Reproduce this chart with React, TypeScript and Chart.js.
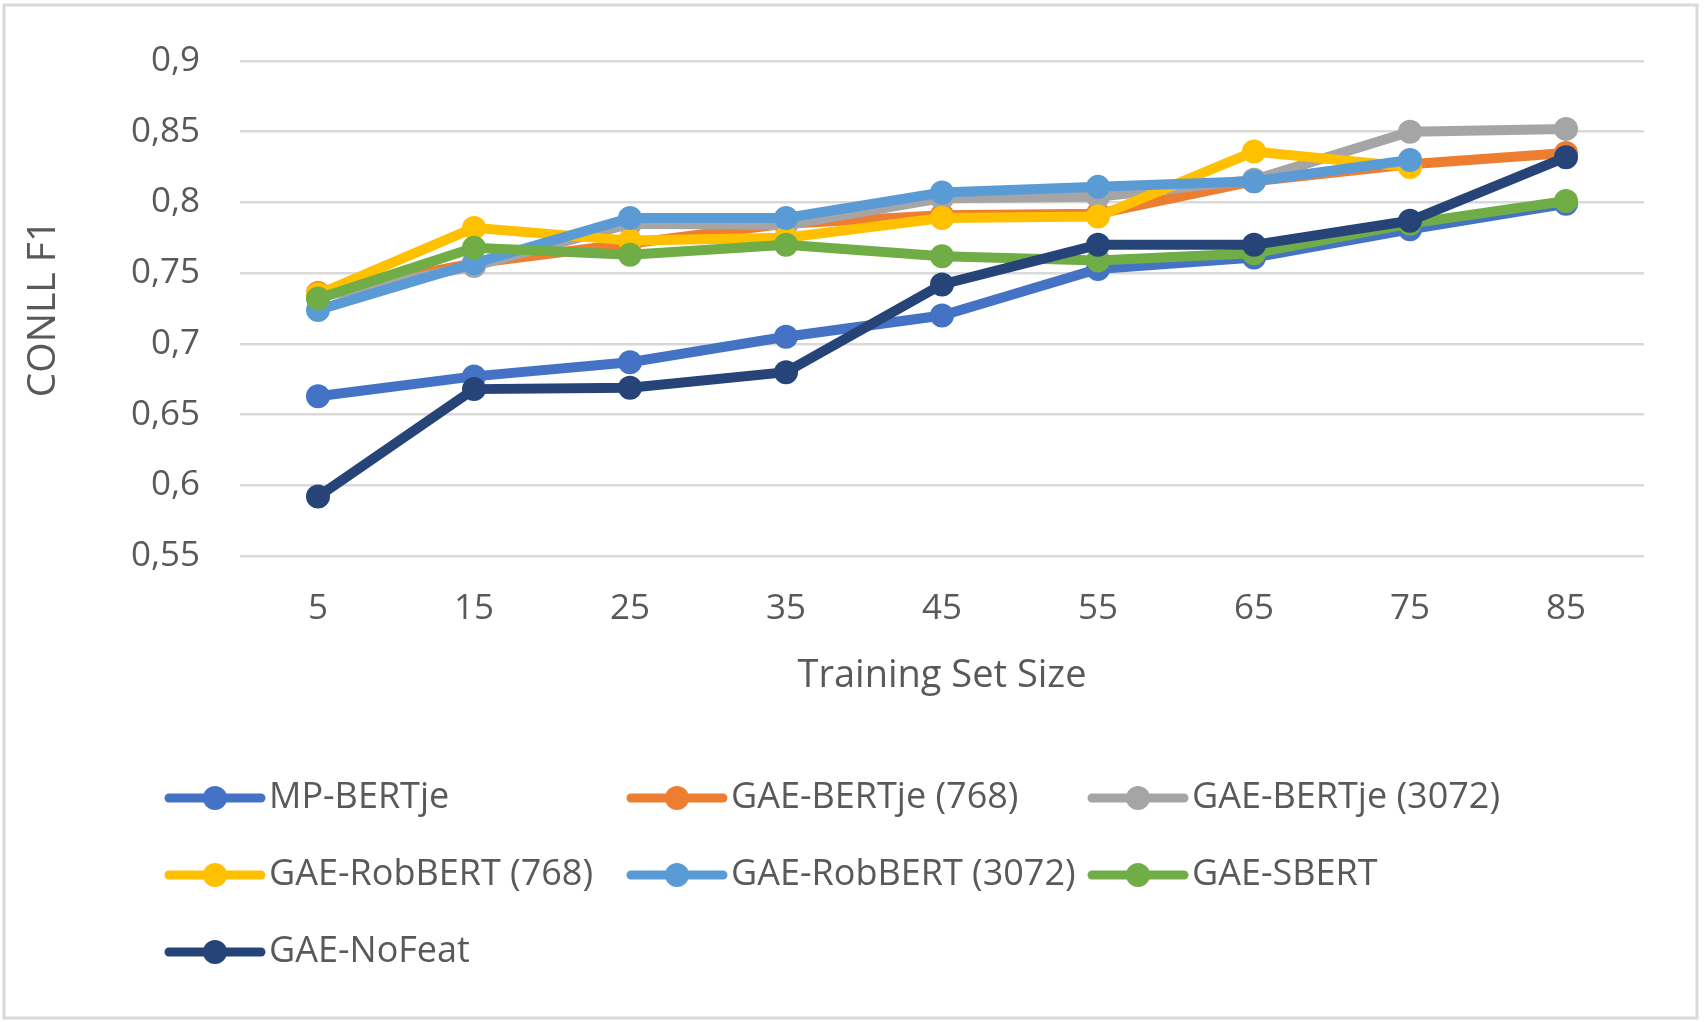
import React, { useEffect, useRef } from "react";
import { Chart, registerables } from "chart.js";

Chart.register(...registerables);

const categories = ["5", "15", "25", "35", "45", "55", "65", "75", "85"];
const seriesNames = [
  "MP-BERTje",
  "GAE-BERTje (768)",
  "GAE-BERTje (3072)",
  "GAE-RobBERT (768)",
  "GAE-RobBERT (3072)",
  "GAE-SBERT",
  "GAE-NoFeat",
];
const mpBertje = [0.663, 0.677, 0.687, 0.705, 0.72, 0.753, 0.761, 0.781, 0.799];
const gaeBertje768 = [0.736, 0.757, 0.771, 0.785, 0.791, 0.792, 0.815, 0.827, 0.835];
const gaeBertje3072 = [0.733, 0.755, 0.785, 0.784, 0.803, 0.804, 0.816, 0.85, 0.852];
const gaeRobbert768 = [0.735, 0.782, 0.773, 0.775, 0.789, 0.79, 0.836, 0.825, null];
const gaeRobbert3072 = [0.724, 0.757, 0.789, 0.789, 0.807, 0.811, 0.815, 0.83, null];
const gaeSbert = [0.732, 0.768, 0.763, 0.77, 0.762, 0.759, 0.764, 0.785, 0.801];
const gaeNoFeat = [0.592, 0.668, 0.669, 0.68, 0.742, 0.77, 0.77, 0.787, 0.832];
const seriesValues = [mpBertje, gaeBertje768, gaeBertje3072, gaeRobbert768, gaeRobbert3072, gaeSbert, gaeNoFeat];
const seriesColors = ["#4472C4", "#ED7D31", "#A5A5A5", "#FFC000", "#5B9BD5", "#70AD47", "#264478"];
const yTickValues = [0.55, 0.6, 0.65, 0.7, 0.75, 0.8, 0.85, 0.9];

const FONT = "'Open Sans', 'Noto Sans', sans-serif";
const TEXT = "#595959";

const frameAndLegend = {
  id: "frameAndLegend",
  beforeDraw(chart: any) {
    const ctx = chart.ctx;
    ctx.save();
    ctx.fillStyle = "#ffffff";
    ctx.fillRect(0, 0, chart.width, chart.height);
    ctx.strokeStyle = "#D9D9D9";
    ctx.lineWidth = 3;
    ctx.strokeRect(4, 5, 1693, 1013);
    ctx.restore();
  },
  afterDraw(chart: any) {
    const ctx = chart.ctx;
    ctx.save();
    const colX = [169, 631, 1092];
    const rowY = [798, 875, 952];
    chart.data.datasets.forEach((ds: any, i: number) => {
      const x0 = colX[i % 3];
      const y = rowY[Math.floor(i / 3)];
      ctx.strokeStyle = ds.borderColor;
      ctx.lineWidth = 9;
      ctx.lineCap = "round";
      ctx.beginPath();
      ctx.moveTo(x0, y);
      ctx.lineTo(x0 + 92, y);
      ctx.stroke();
      ctx.fillStyle = ds.borderColor;
      ctx.beginPath();
      ctx.arc(x0 + 46, y, 12, 0, Math.PI * 2);
      ctx.fill();
      ctx.fillStyle = TEXT;
      ctx.font = `36px ${FONT}`;
      ctx.textAlign = "left";
      ctx.textBaseline = "middle";
      ctx.fillText(ds.label, x0 + 100, y);
    });
    ctx.restore();
  },
};

export default function App() {
  const ref = useRef<HTMLCanvasElement | null>(null);
  useEffect(() => {
    if (!ref.current) return;
    const n = seriesNames.length;
    const chart = new Chart(ref.current, {
      type: "line",
      data: {
        labels: categories,
        datasets: seriesNames.map((name, i) => ({
          label: name,
          data: seriesValues[i],
          borderColor: seriesColors[i],
          backgroundColor: seriesColors[i],
          pointBackgroundColor: seriesColors[i],
          pointBorderColor: seriesColors[i],
          pointBorderWidth: 0,
          pointRadius: 12,
          borderWidth: 10,
          tension: 0,
          fill: false,
          spanGaps: false,
          order: n - 1 - i,
        })),
      },
      options: {
        animation: false,
        responsive: false,
        maintainAspectRatio: false,
        layout: { padding: { top: 53, left: 0, right: 61, bottom: 319 } },
        plugins: {
          legend: { display: false },
          tooltip: { enabled: false },
        },
        scales: {
          x: {
            type: "category",
            offset: true,
            grid: { display: false, drawTicks: false },
            border: { display: false },
            ticks: {
              color: TEXT,
              font: { family: FONT, size: 35 },
              padding: 32,
              maxRotation: 0,
            },
            title: {
              display: true,
              text: "Training Set Size",
              color: TEXT,
              font: { family: FONT, size: 38 },
              padding: { top: 4, bottom: 4 },
            },
            afterFit(scale: any) {
              scale.height = 147;
            },
          },
          y: {
            min: 0.55,
            max: 0.9,
            afterBuildTicks(scale: any) {
              scale.ticks = yTickValues.map((v) => ({ value: v }));
            },
            grid: { color: "#D9D9D9", lineWidth: 2.5, drawTicks: false },
            border: { display: false },
            ticks: {
              color: TEXT,
              font: { family: FONT, size: 35 },
              padding: 40,
              callback: (v: any) => String(Math.round(Number(v) * 100) / 100).replace(".", ","),
            },
            title: {
              display: true,
              text: "CONLL F1",
              color: TEXT,
              font: { family: FONT, size: 39 },
              padding: { top: 20, bottom: 4 },
            },
            afterFit(scale: any) {
              scale.width = 240;
            },
          },
        },
      },
      plugins: [frameAndLegend],
    });
    return () => chart.destroy();
  }, []);
  return (
    <div style={{ position: "absolute", left: 0, top: 0, width: 1705, height: 1022, background: "#fff" }}>
      <canvas ref={ref} width={1705} height={1022} style={{ display: "block", width: 1705, height: 1022 }} />
    </div>
  );
}
